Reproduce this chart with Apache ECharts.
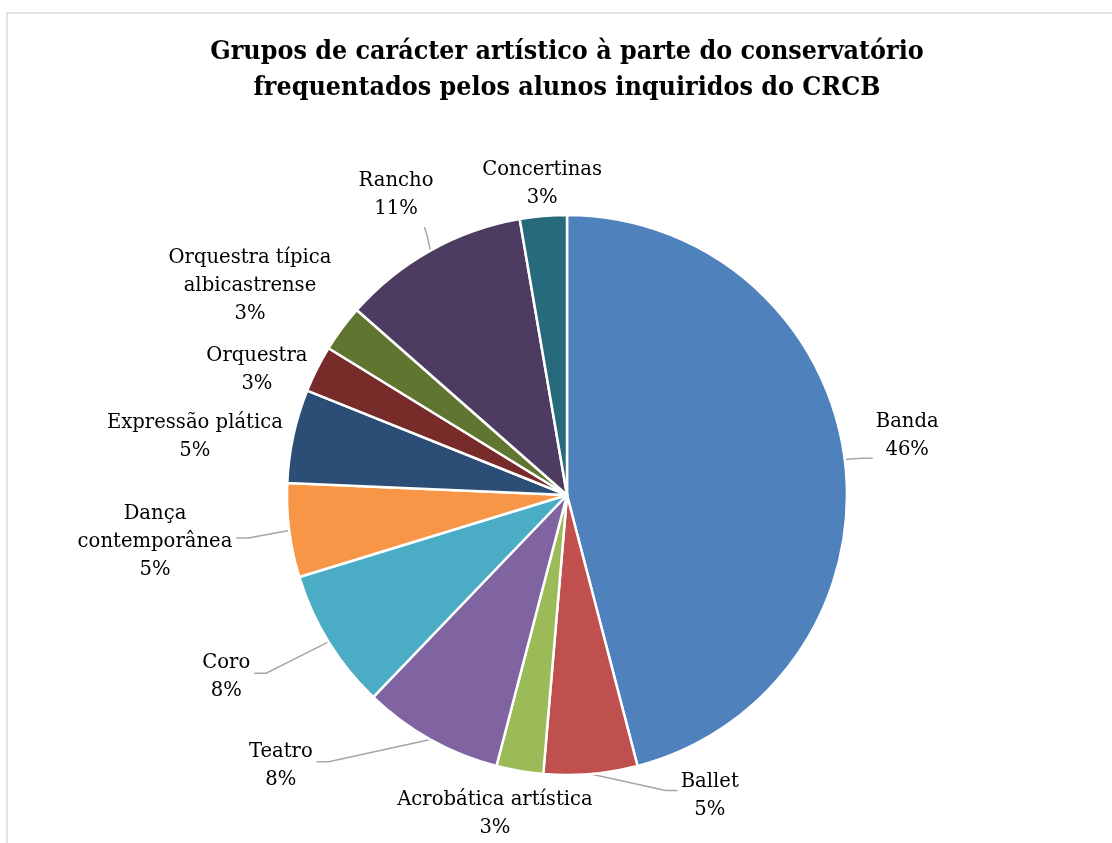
<!DOCTYPE html>
<html>
<head>
<meta charset="utf-8">
<script src="https://cdn.jsdelivr.net/npm/echarts@6/dist/echarts.min.js"></script>
<style>
  html, body { margin: 0; padding: 0; background: #ffffff; }
  #chart { width: 1112px; height: 843px; }
</style>
</head>
<body>
<div id="chart"></div>
<script>
// Pie chart data: number of surveyed students per group
const categories = [
  'Banda', 'Ballet', 'Acrobática artística', 'Teatro', 'Coro',
  'Dança contemporânea', 'Expressão plática', 'Orquestra',
  'Orquestra típica albicastrense', 'Rancho', 'Concertinas'
];
const students = [17, 2, 1, 3, 3, 2, 2, 1, 1, 4, 1];
const titleLines = [
  'Grupos de carácter artístico à parte do conservatório',
  'frequentados pelos alunos inquiridos do CRCB'
];

const sliceColors = [
  '#4F81BD', '#C0504D', '#9BBB59', '#8064A2', '#4BACC6', '#F79646',
  '#2C4D75', '#772C2A', '#5F7530', '#4D3B62', '#276A7C'
];

const TITLE_FONT = "'DejaVu Serif Condensed', 'DejaVu Serif', serif";
const LABEL_FONT = "'DejaVu Serif', serif";
const CX = 567, CY = 495, R = 280;

// label block placement: [distance from centre in radii, angle shift from slice middle (deg)]
const labelPlacement = [
  [1.233, -2.5], [1.190, -20.5], [1.168, 3.0], [1.407, 17.4], [1.380, 3.5],
  [1.481, 0.8], [1.345, -3.3], [1.194, -4.8], [1.356, -3.1], [1.233, -0.5], [1.114, 0.3]
];
// slices whose labels get a leader line
const withLeader = new Set([0, 1, 3, 4, 5, 9]);
// labels wrapped onto two lines
const wrapped = new Set(['Dança contemporânea', 'Orquestra típica albicastrense']);

// middle angle of each slice, clockwise from 12 o'clock
const total = students.reduce((a, b) => a + b, 0);
const midAngles = [];
let acc = 0;
students.forEach(v => { midAngles.push((acc + v / 2) / total * 360); acc += v; });

const chart = echarts.init(document.getElementById('chart'), null, { renderer: 'canvas' });

chart.setOption({
  backgroundColor: '#ffffff',
  animation: false,
  graphic: [{
    type: 'rect',
    shape: { x: 7, y: 13, width: 1300, height: 1000 },
    style: { fill: 'none', stroke: '#d9d9d9', lineWidth: 1.5 },
    silent: true
  }, {
    type: 'text',
    x: 567,
    y: 34,
    silent: true,
    style: {
      text: titleLines.join('\n'),
      fontFamily: TITLE_FONT,
      fontWeight: 'bold',
      fontSize: 26.6,
      lineHeight: 36,
      fill: '#000000',
      align: 'center',
      verticalAlign: 'top',
      textAlign: 'center',
      textVerticalAlign: 'top'
    }
  }],
  series: [{
    type: 'pie',
    center: [CX, CY],
    radius: R,
    startAngle: 90,
    clockwise: true,
    percentPrecision: 0,
    avoidLabelOverlap: false,
    itemStyle: { borderColor: '#ffffff', borderWidth: 2.5 },
    label: {
      show: true,
      position: 'outside',
      fontFamily: LABEL_FONT,
      fontSize: 19.6,
      lineHeight: 28,
      color: '#000000',
      align: 'center',
      formatter: p => {
        let name = p.name;
        if (wrapped.has(name)) {
          const k = name.lastIndexOf(' ');
          name = name.slice(0, k) + '\n' + name.slice(k + 1);
        }
        return name + '\n' + p.percent + '%';
      }
    },
    labelLine: {
      show: true,
      smooth: false,
      lineStyle: { color: '#a6a6a6', width: 1.5 }
    },
    labelLayout: function (p) {
      const i = p.dataIndex;
      const f = labelPlacement[i][0], off = labelPlacement[i][1];
      const a = (midAngles[i] + off) * Math.PI / 180;
      const x = CX + R * f * Math.sin(a);
      const y = CY - R * f * Math.cos(a);
      const w = p.labelRect.width, h = p.labelRect.height;
      const out = { x: x, y: y, align: 'center', verticalAlign: 'middle' };
      if (withLeader.has(i)) {
        const m = midAngles[i] * Math.PI / 180;
        const ex = CX + R * Math.sin(m), ey = CY - R * Math.cos(m);
        const top = y - h / 2, bottom = y + h / 2, left = x - w / 2, right = x + w / 2;
        let pts;
        if (ey > bottom && ex > left && ex < right + 10) {
          pts = [[ex, ey], [ex - 3, (ey + bottom) / 2], [ex - 6, bottom + 4]];
        } else if (x > ex) {
          const ty = Math.min(Math.max(ey, top + h * 0.4), bottom - 6);
          const endX = left - 3;
          pts = [[ex, ey], [endX - 12, ty], [endX, ty]];
        } else {
          const ty = y - 4;
          const endX = right + 4;
          pts = [[ex, ey], [endX + 12, ty], [endX, ty]];
        }
        out.labelLinePoints = pts;
      }
      return out;
    },
    data: categories.map((name, i) => ({
      name: name,
      value: students[i],
      itemStyle: { color: sliceColors[i] },
      labelLine: { show: withLeader.has(i) }
    }))
  }]
});
</script>
</body>
</html>
